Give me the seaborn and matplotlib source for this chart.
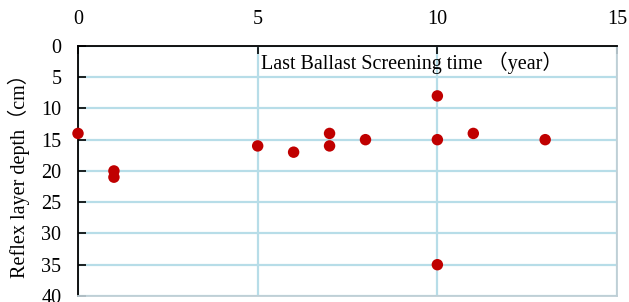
import matplotlib
matplotlib.use("Agg")
import matplotlib.pyplot as plt
import seaborn as sns
import pandas as pd

# years since last ballast screening vs reflex layer depth
years = [0, 1, 1, 5, 6, 7, 7, 8, 10, 10, 10, 11, 13]
depth = [14, 20, 21, 16, 17, 14, 16, 15, 8, 15, 35, 14, 15]
x_ticks = [0, 5, 10, 15]
y_ticks = [0, 5, 10, 15, 20, 25, 30, 35, 40]

df = pd.DataFrame({"years": years, "depth": depth})

sns.set_style("white")
plt.rcParams['font.family'] = ['Liberation Serif', 'Noto Sans CJK SC']
plt.rcParams['text.color'] = 'black'
plt.rcParams['axes.labelcolor'] = 'black'
plt.rcParams['xtick.color'] = 'black'
plt.rcParams['ytick.color'] = 'black'

fig = plt.figure(figsize=(6.29, 3.02), dpi=100)
ax = fig.add_axes([0.124, 0.02, 0.857, 0.828])

grid_col = "#b7dde8"
sns.scatterplot(data=df, x="years", y="depth", ax=ax, color="#c00000",
                s=68, edgecolor="none", zorder=3, clip_on=False)

ax.set_xlim(0, 15)
ax.set_ylim(40, 0)
ax.set_xticks(x_ticks)
ax.set_yticks(y_ticks)
ax.xaxis.tick_top()
ax.grid(True, color=grid_col, linewidth=1.6, zorder=0)
ax.set_axisbelow(True)

for side in ["top", "left"]:
    ax.spines[side].set_color("black")
    ax.spines[side].set_linewidth(1.3)
for side in ["bottom", "right"]:
    ax.spines[side].set_color("#bfcfd6")
    ax.spines[side].set_linewidth(1.3)

ax.tick_params(axis="x", top=True, bottom=False, direction="in", length=6,
               width=1.2, color="black", labelsize=14.5, pad=12)
ax.tick_params(axis="y", left=True, direction="in", length=6,
               width=1.2, color="black", labelsize=14.5, pad=12)

ax.set_xlabel("")
ax.set_ylabel("Reflex layer depth（cm）", fontsize=14.5, labelpad=8)
ax.text(5.1, 1.0, "Last Ballast Screening time （year）", fontsize=14.5,
        ha="left", va="top")

fig.savefig("out.png", dpi=100)
